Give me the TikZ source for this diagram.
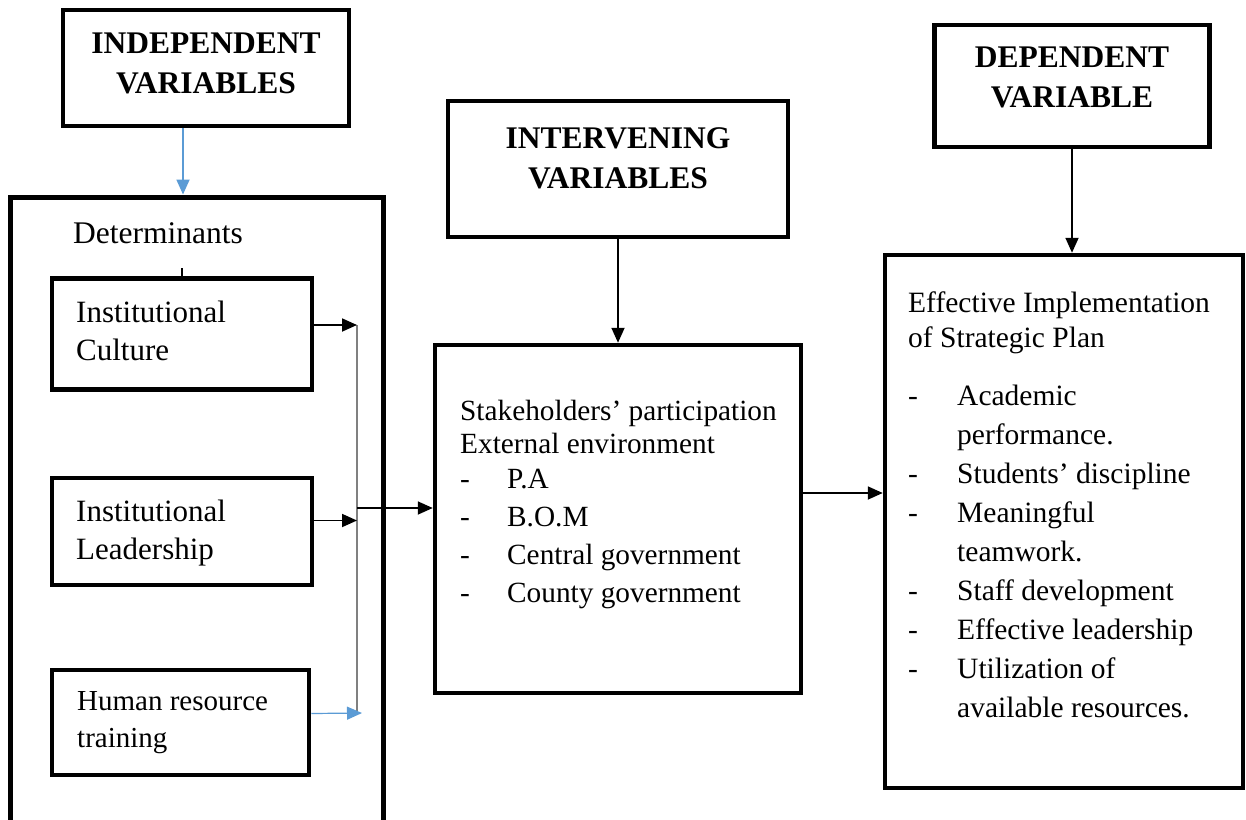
\documentclass[tikz,border=0pt]{standalone}
\usepackage{fontspec}
\setmainfont{Liberation Serif}
\usetikzlibrary{arrows.meta}
\definecolor{arrblue}{HTML}{5B9BD5}
\tikzset{
 varbox/.style={draw,line width=4.5pt,inner sep=0pt},
 hdr/.style={inner sep=0pt,anchor=north,font=\bfseries\fontsize{31.5}{40}\selectfont},
 txt/.style={inner sep=0pt,anchor=north west,font=\fontsize{29.3}{38}\selectfont},
 arr/.style={-{Triangle[length=15pt,width=13pt]},line width=1.8pt},
}
\begin{document}
\begin{tikzpicture}[x=1pt,y=-1pt]
 \useasboundingbox (0,0) rectangle (1246,819);
 % headings
 \node[varbox,minimum width=286,minimum height=116] (indep) at (206,68) {};
 \node[hdr] (indeptext) at (206,25) {\begin{tabular}{@{}c@{}}INDEPENDENT\\VARIABLES\end{tabular}};
 \node[varbox,minimum width=340,minimum height=136] (interv) at (618,169) {};
 \node[hdr] (intervtext) at (618,120) {\begin{tabular}{@{}c@{}}INTERVENING\\VARIABLES\end{tabular}};
 \node[varbox,minimum width=275,minimum height=122] (dep) at (1072,86) {};
 \node[hdr] (deptext) at (1072,39) {\begin{tabular}{@{}c@{}}DEPENDENT\\VARIABLE\end{tabular}};
 % determinants
 \node[varbox,line width=5pt,minimum width=373,minimum height=640] (detbox) at (196.5,517) {};
 \node[inner sep=0pt,anchor=base west,font=\fontsize{31.5}{38}\selectfont] (dettext) at (73,243) {Determinants};
 \node[varbox,minimum width=260,minimum height=111] (culture) at (182,334) {};
 \node[txt,font=\fontsize{31}{38}\selectfont] (culturetext) at (76,295.4) {\begin{tabular}{@{}l@{}}Institutional\\Culture\end{tabular}};
 \node[varbox,minimum width=260,minimum height=107] (leader) at (182,531.5) {};
 \node[txt,font=\fontsize{31}{38}\selectfont] (leadertext) at (76,494.4) {\begin{tabular}{@{}l@{}}Institutional\\Leadership\end{tabular}};
 \node[varbox,minimum width=257,minimum height=105] (human) at (180.5,722.5) {};
 \node[txt,font=\fontsize{29}{37}\selectfont] (humantext) at (77,684) {\begin{tabular}{@{}l@{}}Human resource\\training\end{tabular}};
 % intervening
 \node[varbox,minimum width=366,minimum height=348] (mid) at (618,519) {};
 \node[txt] (midtext) at (460,393.4) {\begin{tabular}{@{}p{47pt}@{}l@{}}
  \multicolumn{2}{@{}l@{}}{Stakeholders’ participation}\\[-5pt]
  \multicolumn{2}{@{}l@{}}{External environment}\\[-3pt]
  - & P.A\\
  - & B.O.M\\
  - & Central government\\
  - & County government
 \end{tabular}};
 % dependent
 \node[varbox,minimum width=358,minimum height=533] (eff) at (1064,521.5) {};
 \node[txt,font=\fontsize{29.5}{39}\selectfont] (efftext) at (908,284.7) {\begin{tabular}{@{}p{49pt}@{}l@{}}
  \multicolumn{2}{@{}l@{}}{Effective Implementation}\\[-4pt]
  \multicolumn{2}{@{}l@{}}{of Strategic Plan}\\[19pt]
  - & Academic\\
    & performance.\\
  - & Students’ discipline\\
  - & Meaningful\\
    & teamwork.\\
  - & Staff development\\
  - & Effective leadership\\
  - & Utilization of\\
    & available resources.
 \end{tabular}};
 % connectors
 \coordinate (bustop) at (357,325);
 \coordinate (busbot) at (357,713);
 \draw[arr,arrblue] ([xshift=-23]indep.south) -- ([xshift=-23]indep.south |- detbox.north);
 \draw[line width=1.5pt] (culture.north) -- ++(0,-8);
 \draw[gray,line width=1.8pt] (bustop) -- (busbot);
 \draw[arr] ([yshift=9]culture.east) -- ([yshift=9]culture.east -| bustop);
 \draw[arr] ([yshift=11]leader.east) -- ([yshift=11]leader.east -| bustop);
 \draw[arr,arrblue,line width=1.2pt] ([yshift=9]human.east) -- ([xshift=5]busbot);
 \draw[arr] ([yshift=11]mid.west -| bustop) -- ([yshift=11]mid.west);
 \draw[arr] (interv.south) -- (mid.north);
 \draw[arr] ([yshift=26]mid.east) -- ([yshift=26]mid.east -| eff.west);
 \draw[arr] (dep.south) -- (dep.south |- eff.north);
\end{tikzpicture}
\end{document}
